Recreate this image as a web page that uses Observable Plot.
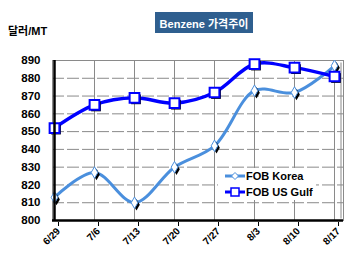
<!DOCTYPE html>
<html><head><meta charset="utf-8">
<script src="https://cdn.jsdelivr.net/npm/d3@7"></script>
<script src="https://cdn.jsdelivr.net/npm/@observablehq/plot@0.6"></script>
<style>
body{margin:0;background:#fff;font-family:"Liberation Sans",Arial,"Noto Sans CJK KR",sans-serif;}
#wrap{position:relative;width:350px;height:260px;}
#title{position:absolute;left:155px;top:12px;width:98px;height:21px;background:#2F5F8F;color:#fff;font:bold 11px "Liberation Sans","Noto Sans CJK KR",sans-serif;display:flex;align-items:center;justify-content:center;white-space:nowrap;}
#unit{position:absolute;left:8px;top:22px;font:bold 11px "Liberation Sans","Noto Sans CJK KR",sans-serif;color:#000;}
#legend{position:absolute;left:218px;top:168px;width:98px;height:32px;background:#fff;font:bold 11px "Liberation Sans",Arial,sans-serif;}
#legend div{position:absolute;left:6px;display:flex;align-items:center;height:14px;}
</style></head>
<body><div id="wrap"></div>
<script>
const dates = ["6/29","7/6","7/13","7/20","7/27","8/3","8/10","8/17"];
const korea = [813, 827, 810, 830, 842, 873, 872, 887];
const usGulf = [852, 865, 869, 866, 872, 888, 886, 881];
const yTicks = [800,810,820,830,840,850,860,870,880,890];
const seriesNames = ["FOB Korea","FOB US Gulf"];
const colors = ["#4A8FDD","#0000FF"];

const kData = dates.map((d,i)=>({date:d, value:korea[i]}));
const gData = dates.map((d,i)=>({date:d, value:usGulf[i]}));

const chart = Plot.plot({
  width:350, height:260,
  marginLeft:52, marginRight:7, marginTop:60, marginBottom:40,
  style:{fontFamily:"'Liberation Sans',Arial,sans-serif", background:"#fff"},
  x:{type:"point", domain:dates, range:[52,335], padding:0, axis:null},
  y:{domain:[800,890], axis:null},
  marks:[
    Plot.ruleY(yTicks.slice(1), {stroke:"#8a8a8a", strokeWidth:1, strokeDasharray:"12,3"}),
    Plot.ruleX(dates.slice(1), {stroke:"#8a8a8a", strokeWidth:1}),
    Plot.frame({stroke:"#8a8a8a", strokeWidth:1}),
    Plot.frame({stroke:"#8a8a8a", strokeWidth:1, inset:2.5, anchor:"right"}),
    Plot.line(kData, {x:"date", y:"value", stroke:colors[0], strokeWidth:3, curve:"catmull-rom"}),
    Plot.line(gData, {x:"date", y:"value", stroke:colors[1], strokeWidth:3.5, curve:"catmull-rom"}),
    Plot.dot(kData, {x:"date", y:"value", symbol:"diamond", r:3.5, fill:"#000", dx:2, dy:2}),
    Plot.dot(kData, {x:"date", y:"value", symbol:"diamond", r:3.5, fill:"#fff", stroke:colors[0], strokeWidth:1}),
    Plot.dot(gData, {x:"date", y:"value", symbol:"square", r:5.5, fill:"#000", dx:1.5, dy:1.5}),
    Plot.dot(gData, {x:"date", y:"value", symbol:"square", r:5.5, fill:"#fff", stroke:colors[1], strokeWidth:2}),
    Plot.axisY(yTicks, {label:null, tickSize:0, tickPadding:12, fontSize:11.5, fontWeight:"bold", fill:"#000"}),
    Plot.axisX(dates, {label:null, tickSize:4, stroke:"#000", tickPadding:3, tickRotate:-45, fontSize:10, fontWeight:"bold", fill:"#000", textAnchor:"end", dx:4, dy:2}),
    Plot.ruleX([dates[0]], {stroke:"#000", strokeWidth:2.5}),
    Plot.ruleY([800], {stroke:"#000", strokeWidth:2.5})
  ]
});
const wrap = document.getElementById("wrap");
wrap.appendChild(chart);
const t = document.createElement("div"); t.id="title"; t.textContent="Benzene 가격주이"; wrap.appendChild(t);
const u = document.createElement("div"); u.id="unit"; u.textContent="달러/MT"; wrap.appendChild(u);
const lg = document.createElement("div"); lg.id="legend";
lg.innerHTML = `
<div style="top:1px"><svg width="22" height="12"><line x1="1" y1="6" x2="21" y2="6" stroke="${colors[0]}" stroke-width="3"/><path d="M11 2.5 L14.5 6 L11 9.5 L7.5 6Z" fill="#fff" stroke="${colors[0]}"/></svg><span>${seriesNames[0]}</span></div>
<div style="top:17px"><svg width="22" height="12"><line x1="1" y1="6" x2="21" y2="6" stroke="${colors[1]}" stroke-width="3"/><rect x="7" y="2" width="8" height="8" fill="#fff" stroke="${colors[1]}" stroke-width="1.5"/></svg><span>${seriesNames[1]}</span></div>`;
wrap.appendChild(lg);
</script></body></html>
